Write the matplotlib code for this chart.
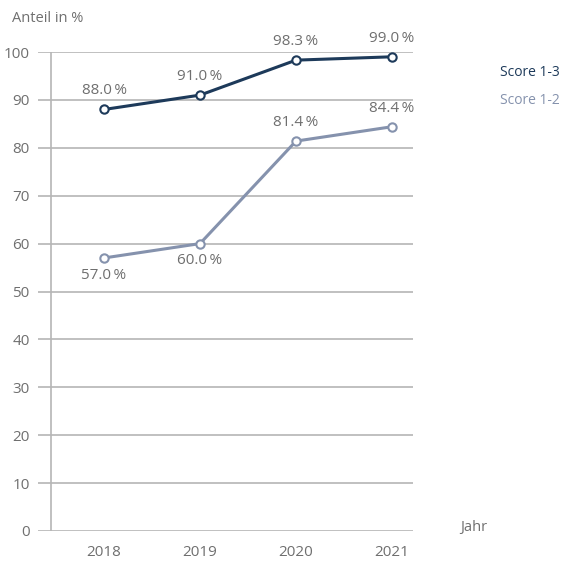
import matplotlib
matplotlib.use("Agg")
import matplotlib.pyplot as plt

years = [2018, 2019, 2020, 2021]
score13 = [88.0, 91.0, 98.3, 99.0]
score12 = [57.0, 60.0, 81.4, 84.4]
labels13 = ["88.0\u2009%", "91.0\u2009%", "98.3\u2009%", "99.0\u2009%"]
labels12 = ["57.0\u2009%", "60.0\u2009%", "81.4\u2009%", "84.4\u2009%"]
yticks = [0, 10, 20, 30, 40, 50, 60, 70, 80, 90, 100]

dark = "#1d3a5a"
light = "#8592ad"
grid = "#b5b5b5"
txt = "#6f6f6f"

plt.rcParams['font.family'] = ['Open Sans', 'DejaVu Sans']

fig = plt.figure(figsize=(5.65, 5.65), dpi=100)
ax = fig.add_axes([38/565, 1-531/565, (413-38)/565, (531-52)/565])
ax.set_xlim(2018 - 66/96, 2021 + 21/96)
ax.set_ylim(0, 100)
for s in ax.spines.values():
    s.set_visible(False)
for y in yticks:
    ax.axhline(y, color=grid, lw=1.2, zorder=1)
ax.axvline(2018 - 53/96, color=grid, lw=1.2, zorder=1)
ax.set_yticks(yticks)
ax.set_yticklabels([str(v) for v in yticks], color=txt, fontsize=11)
ax.tick_params(axis='y', length=0, pad=6)
ax.set_xticks(years)
ax.set_xticklabels([str(v) for v in years], color=txt, fontsize=11)
ax.tick_params(axis='x', length=0, pad=10)

ax.plot(years, score12, color=light, lw=2.2, marker='o', ms=6, mfc='white',
        mec=light, mew=1.5, zorder=3, clip_on=False)
ax.plot(years, score13, color=dark, lw=2.2, marker='o', ms=6, mfc='white',
        mec=dark, mew=1.5, zorder=4, clip_on=False)

for x, y, l in zip(years, score13, labels13):
    ax.annotate(l, (x, y), xytext=(0, 8), textcoords='offset points',
                ha='center', va='bottom', color=txt, fontsize=11)
offs12 = [-7, -7, 8, 8]
for x, y, l, o in zip(years, score12, labels12, offs12):
    ax.annotate(l, (x, y), xytext=(0, o), textcoords='offset points',
                ha='center', va='top' if o < 0 else 'bottom', color=txt, fontsize=11)

fig.text(12/565, 1-18/565, "Anteil in %", color=txt, fontsize=10.5, va='center', ha='left')
fig.text(460/565, 1-527/565, "Jahr", color=txt, fontsize=10.5, va='center', ha='left')
fig.text(500/565, 1-72/565, "Score 1-3", color=dark, fontsize=10, va='center', ha='left')
fig.text(500/565, 1-100/565, "Score 1-2", color=light, fontsize=10, va='center', ha='left')

fig.savefig("out.png", dpi=100)
